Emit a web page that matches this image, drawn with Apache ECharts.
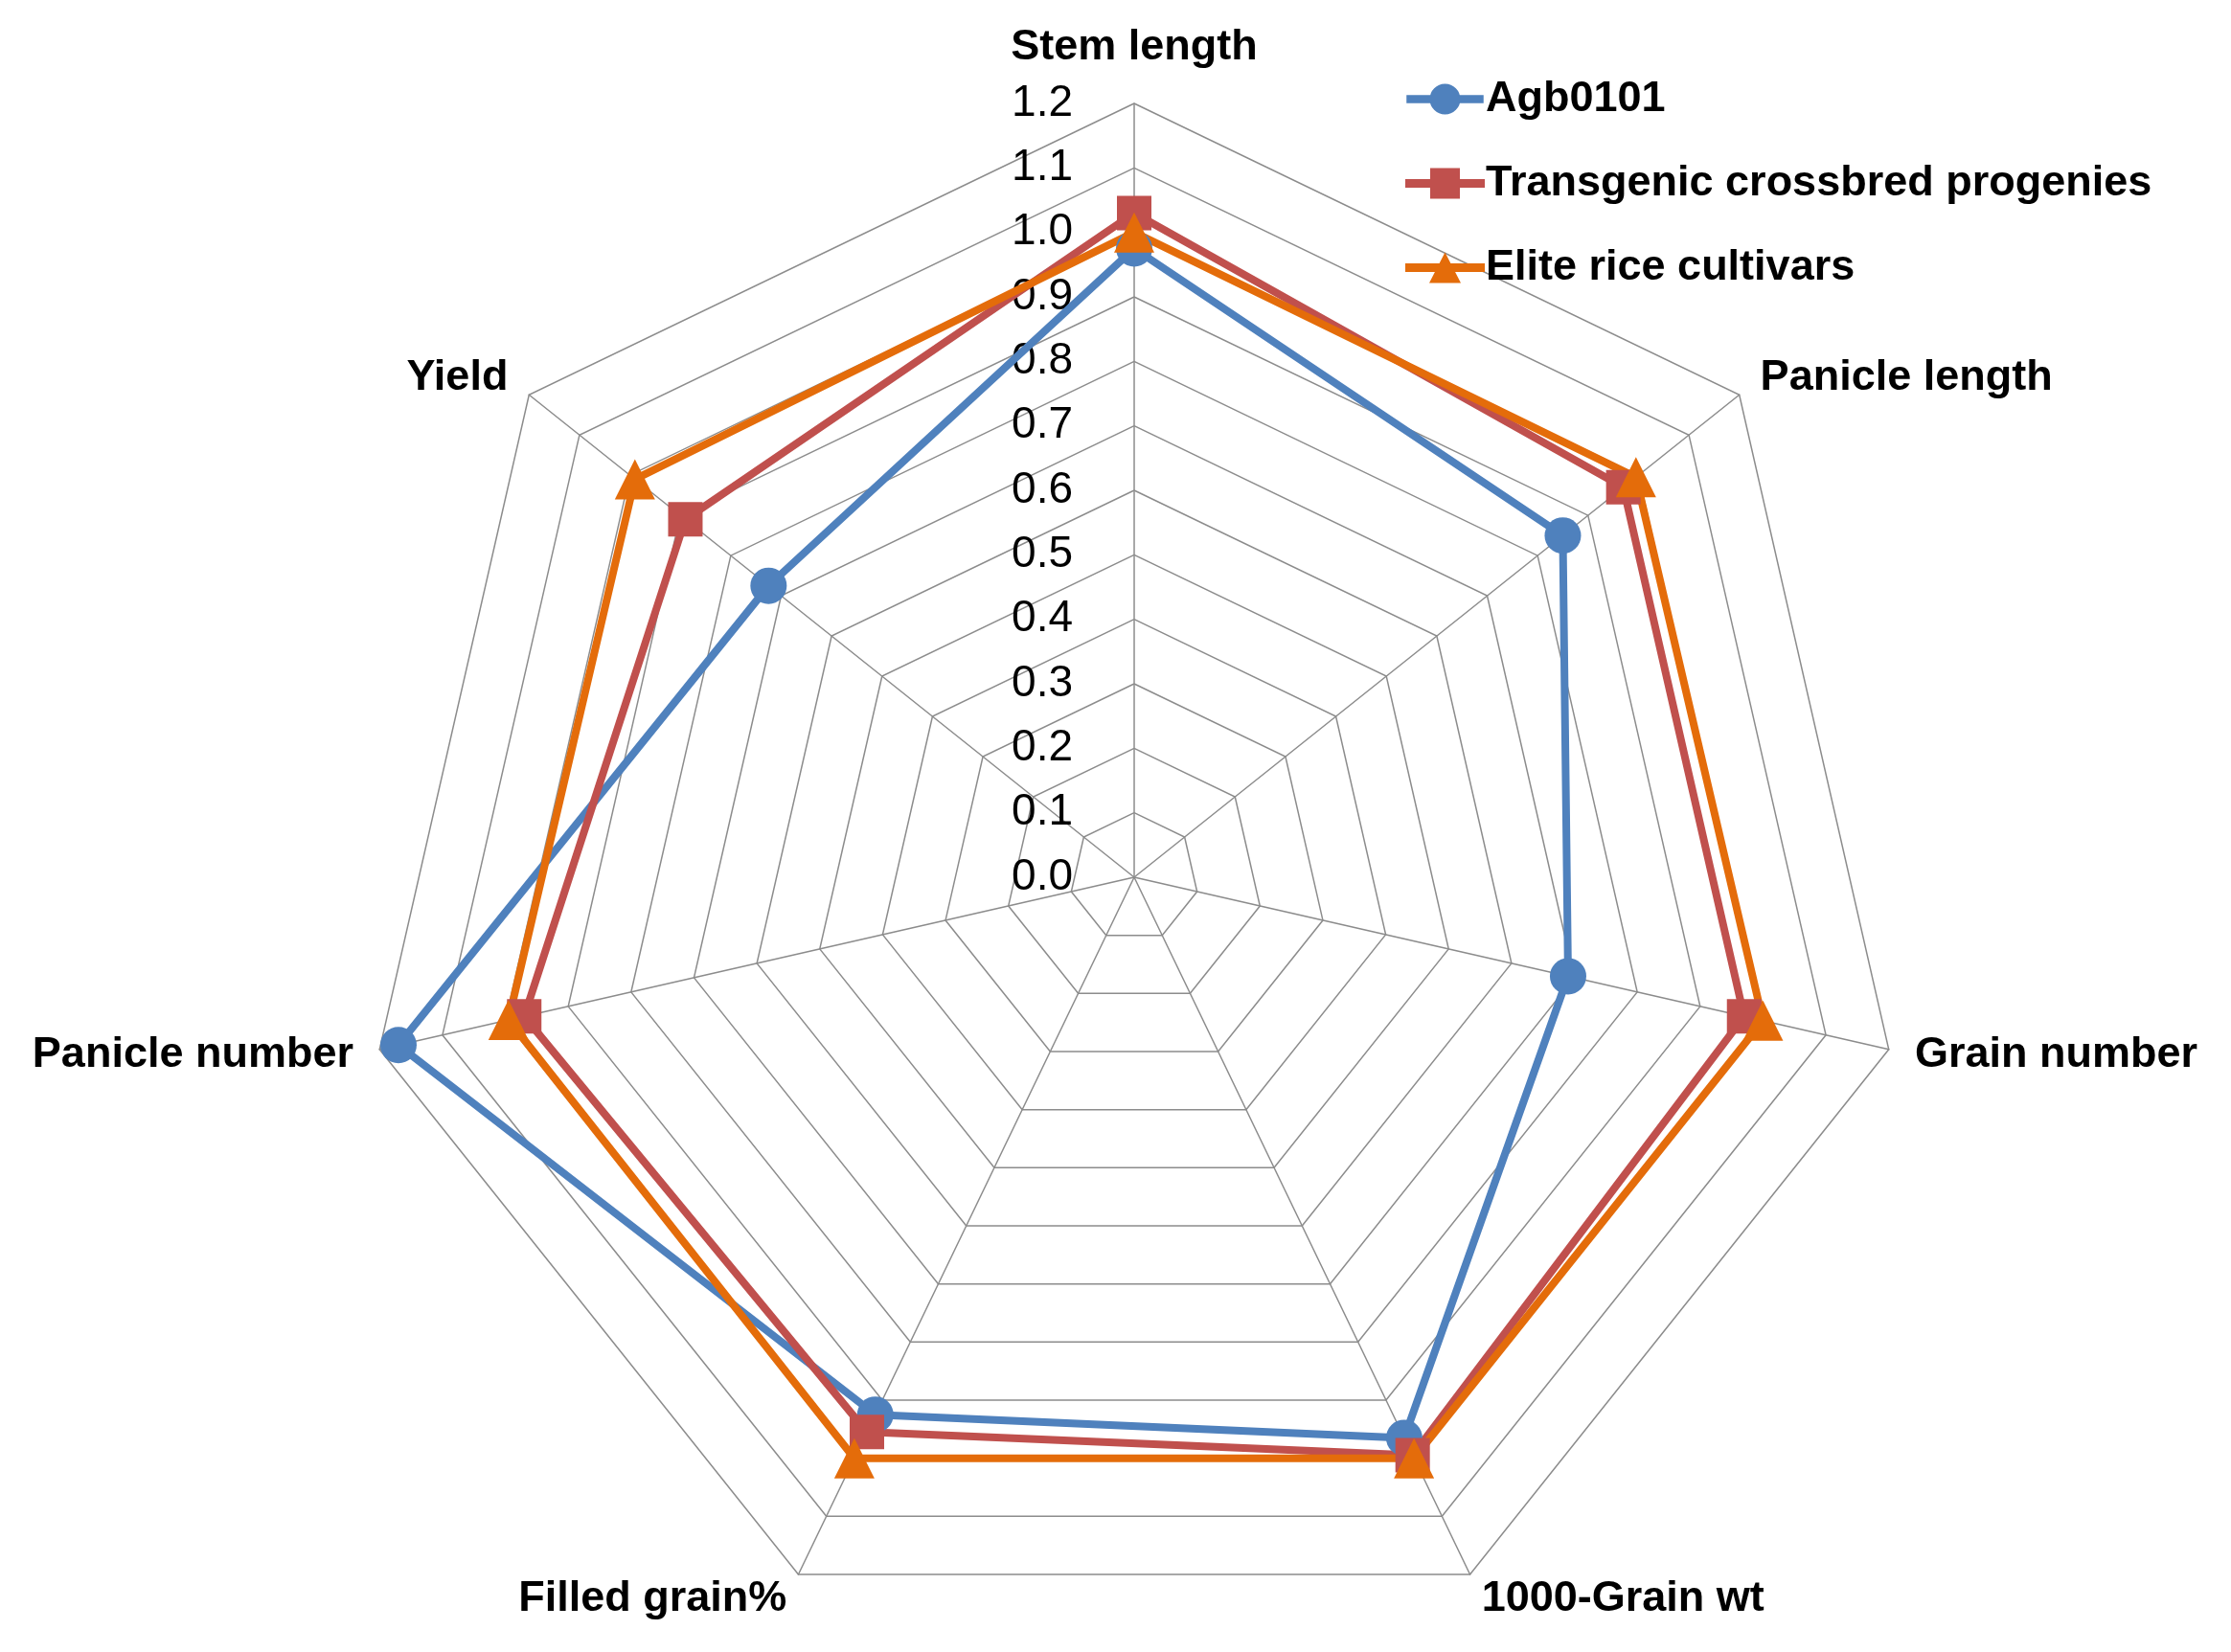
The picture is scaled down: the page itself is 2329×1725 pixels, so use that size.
<!DOCTYPE html>
<html>
<head>
<meta charset="utf-8">
<script src="https://cdn.jsdelivr.net/npm/echarts@6/dist/echarts.min.js"></script>
<style>
  html, body { margin: 0; padding: 0; background: #fff; }
  #chart { width: 2329px; height: 1725px; }
</style>
</head>
<body>
<div id="chart"></div>
<script>
// traits (radar axes), clockwise from top
var traits = ['Stem length', 'Panicle length', 'Grain number', '1000-Grain wt', 'Filled grain%', 'Panicle number', 'Yield'];
var seriesNames = ['Agb0101', 'Transgenic crossbred progenies', 'Elite rice cultivars'];
var agb0101 = [0.975, 0.85, 0.69, 0.965, 0.925, 1.17, 0.725];
var transgenic = [1.03, 0.97, 0.97, 0.995, 0.955, 0.97, 0.89];
var elite = [1.0, 0.995, 1.0, 1.0, 1.0, 0.995, 0.99];
var axisMin = 0;
var axisMax = 1.2;
var axisSplits = 12;

var myChart = echarts.init(document.getElementById('chart'));
var font = '"Liberation Sans", Arial, sans-serif';
var gridColor = '#8c8c8c';

// echarts lays radar indicators out counter-clockwise, the excel chart goes clockwise
var order = [0];
for (var k = traits.length - 1; k > 0; k--) order.push(k);
function reorder(arr) { return order.map(function (i) { return arr[i]; }); }

var indicator = reorder(traits).map(function (t, i) {
  var ind = { name: t, min: axisMin, max: axisMax };
  if (i > 0) ind.axisLabel = { show: false };
  else ind.nameGap = 36;
  return ind;
});

// legend icons: line with marker, like excel
var lineBar = 'M0 11.5 H83 V20.5 H0 Z ';
var icons = [
  'path://' + lineBar + 'M25 16 A16.5 16.5 0 1 1 58 16 A16.5 16.5 0 1 1 25 16 Z',
  'path://' + lineBar + 'M26 0 H57 V32 H26 Z',
  'path://' + lineBar + 'M41.5 0 L58 32 L25 32 Z'
];

function line(name, data, color, symbol, size) {
  return {
    name: name,
    value: reorder(data),
    symbol: symbol,
    symbolSize: size,
    itemStyle: { color: color },
    lineStyle: { color: color, width: 8 }
  };
}

var option = {
  backgroundColor: '#fff',
  animation: false,
  color: ['#4F81BD', '#C0504D', '#E46C0A'],
  legend: {
    orient: 'vertical',
    left: 1462,
    top: 76,
    itemWidth: 83,
    itemHeight: 32,
    itemGap: 43,
    data: seriesNames.map(function (n, i) { return { name: n, icon: icons[i] }; }),
    textStyle: { fontFamily: font, fontSize: 45, fontWeight: 'bold', color: '#000', padding: [0, 0, 0, -4] }
  },
  radar: {
    center: [1184, 916],
    radius: 808,
    startAngle: 90,
    shape: 'polygon',
    splitNumber: axisSplits,
    nameGap: 28,
    axisName: { fontFamily: font, fontSize: 45, fontWeight: 'bold', color: '#000' },
    axisLine: { lineStyle: { color: gridColor, width: 1.5 } },
    splitLine: { lineStyle: { color: gridColor, width: 1.5 } },
    splitArea: { show: false },
    axisTick: { show: false },
    axisLabel: {
      show: true,
      margin: 64,
      fontFamily: font,
      fontSize: 46,
      color: '#000',
      formatter: function (v) { return Number(v).toFixed(1); }
    },
    indicator: indicator
  },
  series: [{
    type: 'radar',
    z: 3,
    data: [
      line(seriesNames[0], agb0101, '#4F81BD', 'circle', 38),
      line(seriesNames[1], transgenic, '#C0504D', 'rect', 36),
      line(seriesNames[2], elite, '#E46C0A', 'triangle', 42)
    ]
  }]
};
option && myChart.setOption(option);
</script>
</body>
</html>
